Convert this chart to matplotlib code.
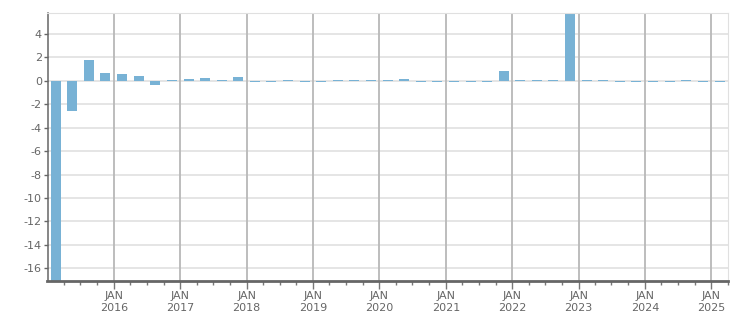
import matplotlib
matplotlib.use("Agg")
import matplotlib.pyplot as plt
import matplotlib.dates as mdates
import datetime as dt

quarters = [f"{y}Q{q}" for y in range(2015, 2026) for q in range(1, 5)][:41]
values = [-17.5, -2.55, 1.8, 0.7, 0.6, 0.43, -0.32, 0.1,
          0.18, 0.26, 0.1, 0.34, -0.1, -0.1, 0.1, -0.1,
          -0.1, 0.1, 0.1, 0.1, 0.1, 0.2, -0.1, -0.1,
          -0.1, -0.1, -0.1, 0.85, 0.1, 0.1, 0.1, 6.0,
          0.1, 0.1, -0.1, -0.1, -0.1, -0.1, 0.1, -0.1,
          -0.1]
yticks = [4, 2, 0, -2, -4, -6, -8, -10, -12, -14, -16]
years = list(range(2016, 2026))

def qmid(label):
    y = int(label[:4]); q = int(label[-1])
    start = dt.date(y, 3 * (q - 1) + 1, 1)
    return mdates.date2num(start) + 45.5

x = [qmid(q) for q in quarters]

fig = plt.figure(figsize=(7.51, 3.13), dpi=100)
ax = fig.add_axes([47.5/751, 32/313, (728.5-47.5)/751, (300-32)/313])

ax.set_ylim(-17.1, 5.8)
ax.set_xlim(mdates.date2num(dt.date(2015, 1, 1)), mdates.date2num(dt.date(2025, 4, 5)))

for yv in yticks:
    ax.axhline(yv, color='#e0e0e0', lw=1.2, zorder=0)
for yr in years:
    ax.axvline(mdates.date2num(dt.date(yr, 1, 1)), color='#b8b8b8', lw=1.3, zorder=0)

ax.bar(x, values, width=55, color='#78b2d5', zorder=2)

ax.set_yticks(yticks)
ax.set_yticklabels([str(v) for v in yticks])
ax.set_xticks([mdates.date2num(dt.date(yr, 1, 1)) for yr in years])
ax.set_xticklabels([f"JAN\n{yr}" for yr in years])
minor = [mdates.date2num(dt.date(yr, m, 1)) for yr in range(2015, 2026) for m in (1, 4, 7, 10)]
minor = [m for m in minor if ax.get_xlim()[0] < m < ax.get_xlim()[1]]
ax.set_xticks(minor, minor=True)

ax.tick_params(axis='y', length=3, width=1, color='#666666', labelcolor='#666666', labelsize=8, pad=1)
ax.tick_params(axis='x', which='major', length=6, width=1, color='#777777', labelcolor='#666666', labelsize=8, pad=1)
ax.tick_params(axis='x', which='minor', length=3, width=1, color='#777777')
for lbl in ax.get_xticklabels():
    lbl.set_linespacing(1.3)

ax.spines['left'].set_color('#666666')
ax.spines['left'].set_linewidth(1.1)
ax.spines['bottom'].set_color('#666666')
ax.spines['bottom'].set_linewidth(2)
ax.spines['top'].set_color('#e0e0e0')
ax.spines['right'].set_color('#e0e0e0')

fig.savefig("out.png", dpi=100)
